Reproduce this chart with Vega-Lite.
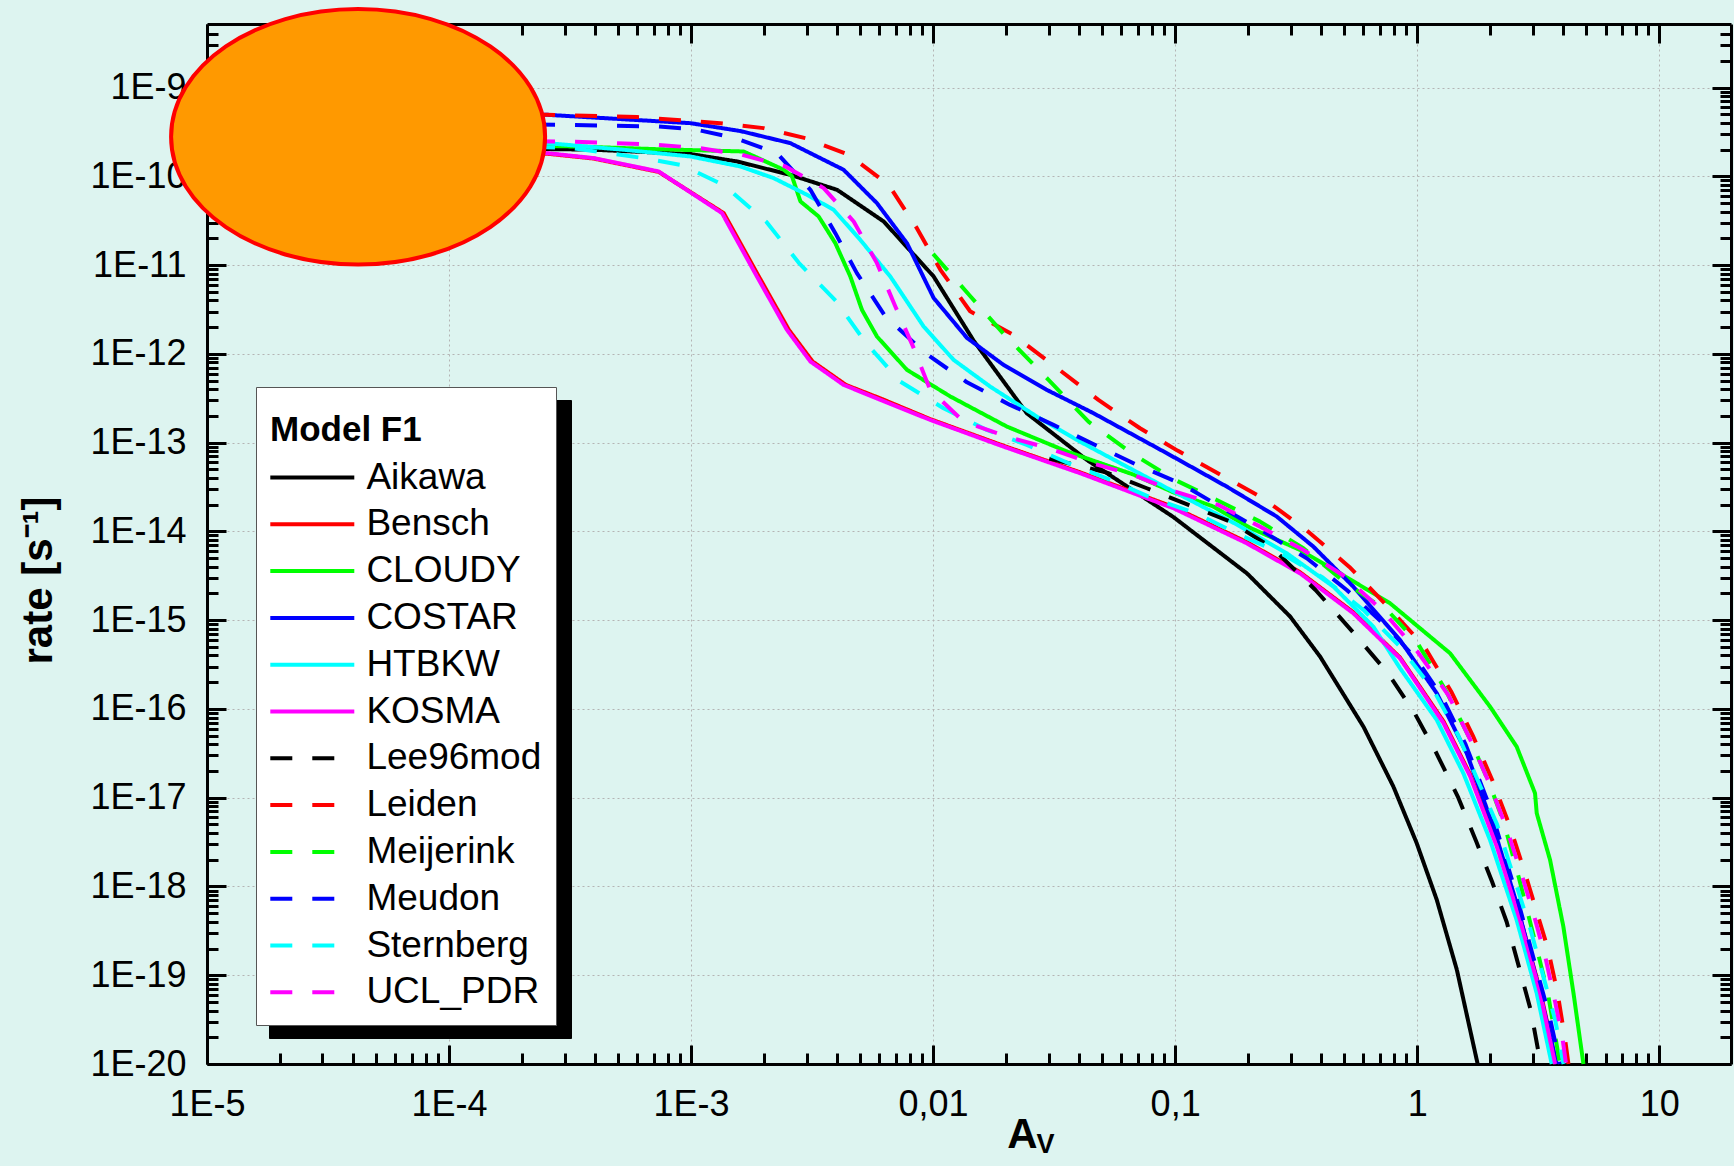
{
  "$schema": "https://vega.github.io/schema/vega-lite/v6.json",
  "width": 1524,
  "height": 1040,
  "autosize": {"type": "none"},
  "padding": {"left": 207, "top": 24, "right": 3, "bottom": 102},
  "background": "#ddf4f0",
  "config": {"view": {"stroke": null}, "font": "Liberation Sans"},
  "datasets": {
    "ellipse": [{"Av": 4.21e-5, "rate": 2.79e-10}],
    "rates": [
      {"model":"Aikawa","Av":1.0e-4,"rate":2.09e-10},
      {"model":"Aikawa","Av":3.84e-4,"rate":2.0e-10},
      {"model":"Aikawa","Av":1.0e-3,"rate":1.78e-10},
      {"model":"Aikawa","Av":1.55e-3,"rate":1.47e-10},
      {"model":"Aikawa","Av":2.57e-3,"rate":1.04e-10},
      {"model":"Aikawa","Av":4.01e-3,"rate":7.05e-11},
      {"model":"Aikawa","Av":6.25e-3,"rate":3.10e-11},
      {"model":"Aikawa","Av":1.005e-2,"rate":7.45e-12},
      {"model":"Aikawa","Av":1.47e-2,"rate":1.41e-12},
      {"model":"Aikawa","Av":2.44e-2,"rate":2.14e-13},
      {"model":"Aikawa","Av":4.32e-2,"rate":6.38e-14},
      {"model":"Aikawa","Av":9.84e-2,"rate":1.45e-14},
      {"model":"Aikawa","Av":0.198,"rate":3.37e-15},
      {"model":"Aikawa","Av":0.2985,"rate":1.10e-15},
      {"model":"Aikawa","Av":0.397,"rate":3.89e-16},
      {"model":"Aikawa","Av":0.600,"rate":6.31e-17},
      {"model":"Aikawa","Av":0.798,"rate":1.33e-17},
      {"model":"Aikawa","Av":0.995,"rate":3.09e-18},
      {"model":"Aikawa","Av":1.205,"rate":7.08e-19},
      {"model":"Aikawa","Av":1.459,"rate":1.15e-19},
      {"model":"Aikawa","Av":1.778,"rate":1.0e-20},

      {"model":"Bensch","Av":1.0e-4,"rate":1.862e-10},
      {"model":"Bensch","Av":2.541e-4,"rate":1.799e-10},
      {"model":"Bensch","Av":3.963e-4,"rate":1.585e-10},
      {"model":"Bensch","Av":7.345e-4,"rate":1.122e-10},
      {"model":"Bensch","Av":1.365e-3,"rate":3.846e-11},
      {"model":"Bensch","Av":1.905e-3,"rate":7.447e-12},
      {"model":"Bensch","Av":2.535e-3,"rate":1.866e-12},
      {"model":"Bensch","Av":3.177e-3,"rate":8.204e-13},
      {"model":"Bensch","Av":4.365e-3,"rate":4.467e-13},
      {"model":"Bensch","Av":6.166e-3,"rate":3.090e-13},
      {"model":"Bensch","Av":9.727e-3,"rate":1.841e-13},
      {"model":"Bensch","Av":1.954e-2,"rate":9.226e-14},
      {"model":"Bensch","Av":4.055e-2,"rate":4.624e-14},
      {"model":"Bensch","Av":9.840e-2,"rate":1.884e-14},
      {"model":"Bensch","Av":0.1977,"rate":7.586e-15},
      {"model":"Bensch","Av":0.3281,"rate":3.467e-15},
      {"model":"Bensch","Av":0.5445,"rate":1.230e-15},
      {"model":"Bensch","Av":0.8492,"rate":3.802e-16},
      {"model":"Bensch","Av":1.285,"rate":7.244e-17},
      {"model":"Bensch","Av":1.656,"rate":1.820e-17},
      {"model":"Bensch","Av":2.133,"rate":3.020e-18},
      {"model":"Bensch","Av":2.661,"rate":4.467e-19},
      {"model":"Bensch","Av":3.221,"rate":6.761e-20},
      {"model":"Bensch","Av":3.758,"rate":1.0e-20},

      {"model":"CLOUDY","Av":1.0e-4,"rate":2.213e-10},
      {"model":"CLOUDY","Av":3.273e-4,"rate":2.173e-10},
      {"model":"CLOUDY","Av":7.228e-4,"rate":2.023e-10},
      {"model":"CLOUDY","Av":1.648e-3,"rate":1.905e-10},
      {"model":"CLOUDY","Av":2.415e-3,"rate":1.186e-10},
      {"model":"CLOUDY","Av":2.612e-3,"rate":1.0e-10},
      {"model":"CLOUDY","Av":2.831e-3,"rate":5.212e-11},
      {"model":"CLOUDY","Av":3.365e-3,"rate":3.532e-11},
      {"model":"CLOUDY","Av":3.945e-3,"rate":1.766e-11},
      {"model":"CLOUDY","Av":4.550e-3,"rate":7.447e-12},
      {"model":"CLOUDY","Av":5.082e-3,"rate":3.133e-12},
      {"model":"CLOUDY","Av":5.861e-3,"rate":1.570e-12},
      {"model":"CLOUDY","Av":7.798e-3,"rate":6.607e-13},
      {"model":"CLOUDY","Av":1.178e-2,"rate":3.311e-13},
      {"model":"CLOUDY","Av":2.018e-2,"rate":1.517e-13},
      {"model":"CLOUDY","Av":3.573e-2,"rate":7.943e-14},
      {"model":"CLOUDY","Av":6.730e-2,"rate":4.365e-14},
      {"model":"CLOUDY","Av":9.840e-2,"rate":2.754e-14},
      {"model":"CLOUDY","Av":0.1439,"rate":1.905e-14},
      {"model":"CLOUDY","Av":0.2042,"rate":1.096e-14},
      {"model":"CLOUDY","Av":0.3281,"rate":6.180e-15},
      {"model":"CLOUDY","Av":0.4797,"rate":3.373e-15},
      {"model":"CLOUDY","Av":0.7727,"rate":1.549e-15},
      {"model":"CLOUDY","Av":1.368,"rate":4.236e-16},
      {"model":"CLOUDY","Av":2.0,"rate":1.062e-16},
      {"model":"CLOUDY","Av":2.576,"rate":3.767e-17},
      {"model":"CLOUDY","Av":3.069,"rate":1.122e-17},
      {"model":"CLOUDY","Av":3.119,"rate":6.683e-18},
      {"model":"CLOUDY","Av":3.540,"rate":1.995e-18},
      {"model":"CLOUDY","Av":4.018,"rate":3.532e-19},
      {"model":"CLOUDY","Av":4.426,"rate":6.252e-20},
      {"model":"CLOUDY","Av":4.864,"rate":1.0e-20},

      {"model":"COSTAR","Av":1.0e-4,"rate":5.012e-10},
      {"model":"COSTAR","Av":2.541e-4,"rate":4.932e-10},
      {"model":"COSTAR","Av":9.93e-4,"rate":3.972e-10},
      {"model":"COSTAR","Av":1.6e-3,"rate":3.236e-10},
      {"model":"COSTAR","Av":2.570e-3,"rate":2.366e-10},
      {"model":"COSTAR","Av":4.266e-3,"rate":1.186e-10},
      {"model":"COSTAR","Av":5.861e-3,"rate":4.989e-11},
      {"model":"COSTAR","Av":7.798e-3,"rate":1.766e-11},
      {"model":"COSTAR","Av":1.005e-2,"rate":4.266e-12},
      {"model":"COSTAR","Av":1.380e-2,"rate":1.514e-12},
      {"model":"COSTAR","Av":1.954e-2,"rate":7.516e-13},
      {"model":"COSTAR","Av":2.951e-2,"rate":3.926e-13},
      {"model":"COSTAR","Av":4.603e-2,"rate":2.143e-13},
      {"model":"COSTAR","Av":9.247e-2,"rate":7.586e-14},
      {"model":"COSTAR","Av":0.1633,"rate":3.199e-14},
      {"model":"COSTAR","Av":0.2630,"rate":1.469e-14},
      {"model":"COSTAR","Av":0.3724,"rate":6.745e-15},
      {"model":"COSTAR","Av":0.5445,"rate":2.388e-15},
      {"model":"COSTAR","Av":0.8492,"rate":5.984e-16},
      {"model":"COSTAR","Av":1.205,"rate":1.503e-16},
      {"model":"COSTAR","Av":1.603,"rate":3.162e-17},
      {"model":"COSTAR","Av":2.065,"rate":4.721e-18},
      {"model":"COSTAR","Av":2.576,"rate":6.457e-19},
      {"model":"COSTAR","Av":3.119,"rate":8.913e-20},
      {"model":"COSTAR","Av":3.776,"rate":1.0e-20},

      {"model":"HTBKW","Av":1.0e-4,"rate":2.399e-10},
      {"model":"HTBKW","Av":2.541e-4,"rate":2.366e-10},
      {"model":"HTBKW","Av":5.272e-4,"rate":1.991e-10},
      {"model":"HTBKW","Av":9.93e-4,"rate":1.675e-10},
      {"model":"HTBKW","Av":1.600e-3,"rate":1.291e-10},
      {"model":"HTBKW","Av":2.193e-3,"rate":9.550e-11},
      {"model":"HTBKW","Av":3.013e-3,"rate":6.194e-11},
      {"model":"HTBKW","Av":3.882e-3,"rate":4.198e-11},
      {"model":"HTBKW","Av":5.000e-3,"rate":1.928e-11},
      {"model":"HTBKW","Av":6.653e-3,"rate":7.447e-12},
      {"model":"HTBKW","Av":9.141e-3,"rate":2.032e-12},
      {"model":"HTBKW","Av":1.216e-2,"rate":8.551e-13},
      {"model":"HTBKW","Av":1.722e-2,"rate":4.276e-13},
      {"model":"HTBKW","Av":2.685e-2,"rate":1.963e-13},
      {"model":"HTBKW","Av":3.926e-2,"rate":1.072e-13},
      {"model":"HTBKW","Av":6.124e-2,"rate":5.610e-14},
      {"model":"HTBKW","Av":9.226e-2,"rate":3.090e-14},
      {"model":"HTBKW","Av":0.1820,"rate":1.175e-14},
      {"model":"HTBKW","Av":0.2891,"rate":5.675e-15},
      {"model":"HTBKW","Av":0.4508,"rate":2.388e-15},
      {"model":"HTBKW","Av":0.6592,"rate":8.453e-16},
      {"model":"HTBKW","Av":0.8492,"rate":2.884e-16},
      {"model":"HTBKW","Av":1.205,"rate":7.516e-17},
      {"model":"HTBKW","Av":1.552,"rate":1.884e-17},
      {"model":"HTBKW","Av":2.0,"rate":3.342e-18},
      {"model":"HTBKW","Av":2.576,"rate":4.198e-19},
      {"model":"HTBKW","Av":3.119,"rate":6.252e-20},
      {"model":"HTBKW","Av":3.597,"rate":1.0e-20},

      {"model":"KOSMA","Av":1.0e-4,"rate":1.905e-10},
      {"model":"KOSMA","Av":2.541e-4,"rate":1.824e-10},
      {"model":"KOSMA","Av":3.963e-4,"rate":1.603e-10},
      {"model":"KOSMA","Av":7.345e-4,"rate":1.135e-10},
      {"model":"KOSMA","Av":1.343e-3,"rate":3.846e-11},
      {"model":"KOSMA","Av":1.871e-3,"rate":7.447e-12},
      {"model":"KOSMA","Av":2.489e-3,"rate":1.866e-12},
      {"model":"KOSMA","Av":3.112e-3,"rate":8.204e-13},
      {"model":"KOSMA","Av":4.266e-3,"rate":4.477e-13},
      {"model":"KOSMA","Av":6.053e-3,"rate":3.034e-13},
      {"model":"KOSMA","Av":9.727e-3,"rate":1.803e-13},
      {"model":"KOSMA","Av":1.954e-2,"rate":9.016e-14},
      {"model":"KOSMA","Av":4.055e-2,"rate":4.519e-14},
      {"model":"KOSMA","Av":9.840e-2,"rate":1.824e-14},
      {"model":"KOSMA","Av":0.1977,"rate":7.345e-15},
      {"model":"KOSMA","Av":0.3281,"rate":3.373e-15},
      {"model":"KOSMA","Av":0.5445,"rate":1.197e-15},
      {"model":"KOSMA","Av":0.8492,"rate":3.715e-16},
      {"model":"KOSMA","Av":1.285,"rate":6.918e-17},
      {"model":"KOSMA","Av":1.656,"rate":1.738e-17},
      {"model":"KOSMA","Av":2.133,"rate":2.818e-18},
      {"model":"KOSMA","Av":2.661,"rate":4.169e-19},
      {"model":"KOSMA","Av":3.221,"rate":6.31e-20},
      {"model":"KOSMA","Av":3.715,"rate":1.0e-20},

      {"model":"Lee96mod","Av":3.020e-2,"rate":6.607e-14},
      {"model":"Lee96mod","Av":5.224e-2,"rate":4.592e-14},
      {"model":"Lee96mod","Av":7.638e-2,"rate":3.062e-14},
      {"model":"Lee96mod","Av":0.1135,"rate":1.986e-14},
      {"model":"Lee96mod","Av":0.1687,"rate":1.288e-14},
      {"model":"Lee96mod","Av":0.2506,"rate":6.607e-15},
      {"model":"Lee96mod","Av":0.3802,"rate":2.188e-15},
      {"model":"Lee96mod","Av":0.5370,"rate":7.586e-16},
      {"model":"Lee96mod","Av":0.7586,"rate":2.512e-16},
      {"model":"Lee96mod","Av":0.9772,"rate":8.913e-17},
      {"model":"Lee96mod","Av":1.202,"rate":3.162e-17},
      {"model":"Lee96mod","Av":1.479,"rate":1.0e-17},
      {"model":"Lee96mod","Av":1.758,"rate":3.162e-18},
      {"model":"Lee96mod","Av":2.042,"rate":1.122e-18},
      {"model":"Lee96mod","Av":2.344,"rate":3.981e-19},
      {"model":"Lee96mod","Av":2.630,"rate":1.259e-19},
      {"model":"Lee96mod","Av":2.951,"rate":3.981e-20},
      {"model":"Lee96mod","Av":3.236,"rate":1.0e-20},

      {"model":"Leiden","Av":1.0e-4,"rate":5.012e-10},
      {"model":"Leiden","Av":2.541e-4,"rate":4.932e-10},
      {"model":"Leiden","Av":5.984e-4,"rate":4.645e-10},
      {"model":"Leiden","Av":1.321e-3,"rate":3.972e-10},
      {"model":"Leiden","Av":1.995e-3,"rate":3.491e-10},
      {"model":"Leiden","Av":2.965e-3,"rate":2.692e-10},
      {"model":"Leiden","Av":4.477e-3,"rate":1.750e-10},
      {"model":"Leiden","Av":6.546e-3,"rate":8.035e-11},
      {"model":"Leiden","Av":8.570e-3,"rate":2.606e-11},
      {"model":"Leiden","Av":1.072e-2,"rate":8.851e-12},
      {"model":"Leiden","Av":1.422e-2,"rate":3.020e-12},
      {"model":"Leiden","Av":2.148e-2,"rate":1.637e-12},
      {"model":"Leiden","Av":3.192e-2,"rate":7.194e-13},
      {"model":"Leiden","Av":4.819e-2,"rate":3.027e-13},
      {"model":"Leiden","Av":7.161e-2,"rate":1.452e-13},
      {"model":"Leiden","Av":0.1023,"rate":8.128e-14},
      {"model":"Leiden","Av":0.1514,"rate":4.467e-14},
      {"model":"Leiden","Av":0.2291,"rate":2.399e-14},
      {"model":"Leiden","Av":0.3467,"rate":1.047e-14},
      {"model":"Leiden","Av":0.5248,"rate":3.981e-15},
      {"model":"Leiden","Av":0.7586,"rate":1.413e-15},
      {"model":"Leiden","Av":1.072,"rate":5.012e-16},
      {"model":"Leiden","Av":1.380,"rate":1.585e-16},
      {"model":"Leiden","Av":1.698,"rate":5.012e-17},
      {"model":"Leiden","Av":2.042,"rate":1.585e-17},
      {"model":"Leiden","Av":2.399,"rate":5.012e-18},
      {"model":"Leiden","Av":2.754,"rate":1.585e-18},
      {"model":"Leiden","Av":3.090,"rate":5.623e-19},
      {"model":"Leiden","Av":3.467,"rate":1.995e-19},
      {"model":"Leiden","Av":3.802,"rate":6.310e-20},
      {"model":"Leiden","Av":4.074,"rate":1.995e-20},
      {"model":"Leiden","Av":4.217,"rate":1.0e-20},

      {"model":"Meijerink","Av":1.0e-2,"rate":1.340e-11},
      {"model":"Meijerink","Av":1.413e-2,"rate":4.571e-12},
      {"model":"Meijerink","Av":1.995e-2,"rate":1.585e-12},
      {"model":"Meijerink","Av":2.999e-2,"rate":5.093e-13},
      {"model":"Meijerink","Av":4.385e-2,"rate":1.726e-13},
      {"model":"Meijerink","Av":6.622e-2,"rate":7.586e-14},
      {"model":"Meijerink","Av":0.1,"rate":3.802e-14},
      {"model":"Meijerink","Av":0.1486,"rate":2.259e-14},
      {"model":"Meijerink","Av":0.2244,"rate":1.288e-14},
      {"model":"Meijerink","Av":0.3388,"rate":6.457e-15},
      {"model":"Meijerink","Av":0.4955,"rate":2.754e-15},
      {"model":"Meijerink","Av":0.7727,"rate":1.202e-15},
      {"model":"Meijerink","Av":1.0,"rate":5.623e-16},
      {"model":"Meijerink","Av":1.318,"rate":1.585e-16},
      {"model":"Meijerink","Av":1.660,"rate":4.467e-17},
      {"model":"Meijerink","Av":1.995,"rate":1.413e-17},
      {"model":"Meijerink","Av":2.291,"rate":5.012e-18},
      {"model":"Meijerink","Av":2.630,"rate":1.259e-18},
      {"model":"Meijerink","Av":3.090,"rate":2.239e-19},
      {"model":"Meijerink","Av":3.467,"rate":6.310e-20},
      {"model":"Meijerink","Av":3.890,"rate":1.0e-20},

      {"model":"Meudon","Av":1.0e-4,"rate":3.890e-10},
      {"model":"Meudon","Av":2.793e-4,"rate":3.811e-10},
      {"model":"Meudon","Av":7.244e-4,"rate":3.648e-10},
      {"model":"Meudon","Av":1.026e-3,"rate":3.404e-10},
      {"model":"Meudon","Av":1.524e-3,"rate":2.692e-10},
      {"model":"Meudon","Av":2.265e-3,"rate":1.824e-10},
      {"model":"Meudon","Av":3.112e-3,"rate":7.047e-11},
      {"model":"Meudon","Av":3.945e-3,"rate":2.291e-11},
      {"model":"Meudon","Av":4.842e-3,"rate":8.128e-12},
      {"model":"Meudon","Av":6.353e-3,"rate":2.636e-12},
      {"model":"Meudon","Av":9.290e-3,"rate":1.019e-12},
      {"model":"Meudon","Av":1.380e-2,"rate":4.786e-13},
      {"model":"Meudon","Av":2.080e-2,"rate":2.661e-13},
      {"model":"Meudon","Av":3.141e-2,"rate":1.585e-13},
      {"model":"Meudon","Av":4.677e-2,"rate":9.419e-14},
      {"model":"Meudon","Av":6.950e-2,"rate":5.610e-14},
      {"model":"Meudon","Av":0.1050,"rate":3.483e-14},
      {"model":"Meudon","Av":0.1535,"rate":1.901e-14},
      {"model":"Meudon","Av":0.2317,"rate":9.954e-15},
      {"model":"Meudon","Av":0.3499,"rate":4.977e-15},
      {"model":"Meudon","Av":0.5117,"rate":2.188e-15},
      {"model":"Meudon","Av":0.7482,"rate":8.453e-16},
      {"model":"Meudon","Av":1.0,"rate":3.548e-16},
      {"model":"Meudon","Av":1.259,"rate":1.413e-16},
      {"model":"Meudon","Av":1.585,"rate":3.981e-17},
      {"model":"Meudon","Av":1.995,"rate":7.943e-18},
      {"model":"Meudon","Av":2.512,"rate":1.0e-18},
      {"model":"Meudon","Av":3.020,"rate":1.585e-19},
      {"model":"Meudon","Av":3.548,"rate":3.162e-20},
      {"model":"Meudon","Av":3.890,"rate":1.0e-20},

      {"model":"Sternberg","Av":1.0e-4,"rate":2.291e-10},
      {"model":"Sternberg","Av":3.162e-4,"rate":2.089e-10},
      {"model":"Sternberg","Av":6.081e-4,"rate":1.633e-10},
      {"model":"Sternberg","Av":9.183e-4,"rate":1.337e-10},
      {"model":"Sternberg","Av":1.365e-3,"rate":7.962e-11},
      {"model":"Sternberg","Av":2.046e-3,"rate":3.076e-11},
      {"model":"Sternberg","Av":2.786e-3,"rate":1.062e-11},
      {"model":"Sternberg","Av":3.972e-3,"rate":3.926e-12},
      {"model":"Sternberg","Av":5.248e-3,"rate":1.355e-12},
      {"model":"Sternberg","Av":7.311e-3,"rate":4.887e-13},
      {"model":"Sternberg","Av":1.104e-2,"rate":2.438e-13},
      {"model":"Sternberg","Av":1.667e-2,"rate":1.390e-13},
      {"model":"Sternberg","Av":2.438e-2,"rate":9.419e-14},
      {"model":"Sternberg","Av":3.631e-2,"rate":5.861e-14},
      {"model":"Sternberg","Av":5.395e-2,"rate":3.802e-14},
      {"model":"Sternberg","Av":8.128e-2,"rate":2.344e-14},
      {"model":"Sternberg","Av":0.1230,"rate":1.585e-14},
      {"model":"Sternberg","Av":0.1820,"rate":9.333e-15},
      {"model":"Sternberg","Av":0.2754,"rate":5.623e-15},
      {"model":"Sternberg","Av":0.4074,"rate":3.020e-15},
      {"model":"Sternberg","Av":0.5998,"rate":1.303e-15},
      {"model":"Sternberg","Av":0.8511,"rate":5.012e-16},
      {"model":"Sternberg","Av":1.175,"rate":1.585e-16},
      {"model":"Sternberg","Av":1.479,"rate":5.012e-17},
      {"model":"Sternberg","Av":1.778,"rate":1.585e-17},
      {"model":"Sternberg","Av":2.138,"rate":5.012e-18},
      {"model":"Sternberg","Av":2.512,"rate":1.259e-18},
      {"model":"Sternberg","Av":2.951,"rate":3.162e-19},
      {"model":"Sternberg","Av":3.388,"rate":7.943e-20},
      {"model":"Sternberg","Av":3.715,"rate":3.162e-20},
      {"model":"Sternberg","Av":4.027,"rate":1.0e-20},

      {"model":"UCL_PDR","Av":1.0e-4,"rate":2.512e-10},
      {"model":"UCL_PDR","Av":2.979e-4,"rate":2.472e-10},
      {"model":"UCL_PDR","Av":4.864e-4,"rate":2.366e-10},
      {"model":"UCL_PDR","Av":7.228e-4,"rate":2.265e-10},
      {"model":"UCL_PDR","Av":1.091e-3,"rate":2.080e-10},
      {"model":"UCL_PDR","Av":1.622e-3,"rate":1.750e-10},
      {"model":"UCL_PDR","Av":2.455e-3,"rate":1.291e-10},
      {"model":"UCL_PDR","Av":3.532e-3,"rate":7.362e-11},
      {"model":"UCL_PDR","Av":4.699e-3,"rate":3.097e-11},
      {"model":"UCL_PDR","Av":5.861e-3,"rate":1.052e-11},
      {"model":"UCL_PDR","Av":6.982e-3,"rate":3.420e-12},
      {"model":"UCL_PDR","Av":8.318e-3,"rate":1.159e-12},
      {"model":"UCL_PDR","Av":9.727e-3,"rate":3.926e-13},
      {"model":"UCL_PDR","Av":1.337e-2,"rate":1.726e-13},
      {"model":"UCL_PDR","Av":2.018e-2,"rate":1.169e-13},
      {"model":"UCL_PDR","Av":2.999e-2,"rate":8.650e-14},
      {"model":"UCL_PDR","Av":4.529e-2,"rate":5.861e-14},
      {"model":"UCL_PDR","Av":6.730e-2,"rate":4.325e-14},
      {"model":"UCL_PDR","Av":0.1,"rate":2.805e-14},
      {"model":"UCL_PDR","Av":0.1510,"rate":1.986e-14},
      {"model":"UCL_PDR","Av":0.2244,"rate":1.132e-14},
      {"model":"UCL_PDR","Av":0.3388,"rate":6.180e-15},
      {"model":"UCL_PDR","Av":0.5035,"rate":3.090e-15},
      {"model":"UCL_PDR","Av":0.7261,"rate":1.247e-15},
      {"model":"UCL_PDR","Av":1.0,"rate":4.467e-16},
      {"model":"UCL_PDR","Av":1.349,"rate":1.413e-16},
      {"model":"UCL_PDR","Av":1.660,"rate":4.467e-17},
      {"model":"UCL_PDR","Av":1.995,"rate":1.413e-17},
      {"model":"UCL_PDR","Av":2.344,"rate":4.467e-18},
      {"model":"UCL_PDR","Av":2.692,"rate":1.413e-18},
      {"model":"UCL_PDR","Av":3.020,"rate":5.012e-19},
      {"model":"UCL_PDR","Av":3.388,"rate":1.585e-19},
      {"model":"UCL_PDR","Av":3.715,"rate":5.012e-20},
      {"model":"UCL_PDR","Av":3.981,"rate":1.995e-20},
      {"model":"UCL_PDR","Av":4.121,"rate":1.0e-20}
    ]
  },
  "layer": [
    {
      "data": {"name": "rates"},
      "mark": {"type": "line", "strokeWidth": 4, "strokeCap": "butt", "strokeJoin": "round"},
      "encoding": {
        "x": {
          "field": "Av", "type": "quantitative",
          "scale": {"type": "log", "domain": [1e-5, 19.8], "nice": false},
          "axis": {
            "orient": "bottom", "values": [1e-5, 1e-4, 1e-3, 0.01, 0.1, 1, 10],
            "labelExpr": "datum.value < 0.005 ? '1E' + round(log(datum.value) / LN10) : replace(toString(datum.value), '.', ',')",
            "labelFlush": false, "labelOverlap": false, "labelFont": "Liberation Sans", "labelFontSize": 36, "labelColor": "#000000", "labelPadding": 42,
            "tickSize": -19, "tickWidth": 3, "tickColor": "#000000",
            "domain": true, "domainColor": "#000000", "domainWidth": 3,
            "grid": true, "gridColor": "#b4b4b4", "gridDash": [2, 3], "gridWidth": 1,
            "title": "A", "titleFont": "Liberation Sans", "titleFontSize": 42, "titleFontWeight": "bold", "titleColor": "#000000",
            "titleX": 815, "titleY": 83, "titleAlign": "center", "titleBaseline": "alphabetic", "titleAngle": 0,
            "zindex": 0
          }
        },
        "y": {
          "field": "rate", "type": "quantitative",
          "scale": {"type": "log", "domain": [1e-20, 5.2e-9], "nice": false},
          "axis": {
            "orient": "left", "values": [1e-20, 1e-19, 1e-18, 1e-17, 1e-16, 1e-15, 1e-14, 1e-13, 1e-12, 1e-11, 1e-10, 1e-9],
            "labelExpr": "'1E' + round(log(datum.value) / LN10)",
            "labelFlush": false, "labelOverlap": false, "labelFont": "Liberation Sans", "labelFontSize": 36, "labelColor": "#000000", "labelPadding": 40,
            "tickSize": -19, "tickWidth": 3, "tickColor": "#000000",
            "domain": true, "domainColor": "#000000", "domainWidth": 3,
            "grid": true, "gridColor": "#b4b4b4", "gridDash": [2, 3], "gridWidth": 1,
            "title": "rate [s\u207b\u00b9]", "titleFont": "Liberation Sans", "titleFontSize": 42, "titleFontWeight": "bold", "titleColor": "#000000",
            "titleX": -169, "titleY": 556, "titleAlign": "center", "titleBaseline": "middle", "titleAngle": 270,
            "zindex": 0
          }
        },
        "color": {
          "field": "model", "type": "nominal",
          "scale": {
            "domain": ["Aikawa", "Bensch", "CLOUDY", "COSTAR", "HTBKW", "KOSMA", "Lee96mod", "Leiden", "Meijerink", "Meudon", "Sternberg", "UCL_PDR"],
            "range": ["#000000", "#ff0000", "#00ff00", "#0000ff", "#00ffff", "#ff00ff", "#000000", "#ff0000", "#00ff00", "#0000ff", "#00ffff", "#ff00ff"]
          },
          "legend": {
            "orient": "none", "legendX": 49, "legendY": 363,
            "title": "Model F1", "titleFont": "Liberation Sans", "titleFontSize": 35, "titleFontWeight": "bold", "titleColor": "#000000",
            "titleBaseline": "line-top", "titleLineHeight": 59, "titlePadding": 23,
            "labelFont": "Liberation Sans", "labelFontSize": 37, "labelColor": "#000000", "labelOffset": 35.6, "labelLimit": 400,
            "symbolType": "M -4 0 L 4 0", "symbolSize": 441, "symbolStrokeWidth": 4, "symbolOffset": 23.8,
            "padding": 14, "rowPadding": 8.8, "fillColor": "#ffffff", "strokeColor": "#555555",
            "zindex": 2
          }
        },
        "strokeDash": {
          "field": "model", "type": "nominal",
          "scale": {
            "domain": ["Aikawa", "Bensch", "CLOUDY", "COSTAR", "HTBKW", "KOSMA", "Lee96mod", "Leiden", "Meijerink", "Meudon", "Sternberg", "UCL_PDR"],
            "range": [[1, 0], [1, 0], [1, 0], [1, 0], [1, 0], [1, 0], [22, 20], [22, 20], [22, 20], [22, 20], [22, 20], [22, 20]]
          }
        }
      }
    },
    {
      "data": {"name": "rates"},
      "mark": {"type": "point", "opacity": 0},
      "encoding": {
        "x": {
          "field": "Av", "type": "quantitative",
          "scale": {"type": "log", "domain": [1e-5, 19.8], "nice": false},
          "axis": {"orient": "top", "values": [1e-5, 1e-4, 1e-3, 0.01, 0.1, 1, 10], "labels": false, "tickSize": -19, "tickWidth": 3, "tickColor": "#000000", "domain": true, "domainColor": "#000000", "domainWidth": 3, "grid": false, "title": null, "zindex": 0}
        },
        "y": {
          "field": "rate", "type": "quantitative",
          "scale": {"type": "log", "domain": [1e-20, 5.2e-9], "nice": false},
          "axis": {"orient": "right", "values": [1e-20, 1e-19, 1e-18, 1e-17, 1e-16, 1e-15, 1e-14, 1e-13, 1e-12, 1e-11, 1e-10, 1e-9], "labels": false, "tickSize": -19, "tickWidth": 3, "tickColor": "#000000", "domain": true, "domainColor": "#000000", "domainWidth": 3, "grid": false, "title": null, "zindex": 0}
        },
        "shape": {
          "field": "model", "type": "nominal",
          "scale": {"domain": ["UCL_PDR", "Sternberg", "Meudon", "Meijerink", "Leiden", "Lee96mod", "KOSMA", "HTBKW", "COSTAR", "CLOUDY", "Bensch", "Aikawa"]},
          "legend": {
            "orient": "none", "legendX": 62, "legendY": 376,
            "title": "\u00a0", "titleFont": "Liberation Sans", "titleFontSize": 35, "titleFontWeight": "bold", "titleColor": "#000000",
            "titleBaseline": "line-top", "titleLineHeight": 59, "titlePadding": 23,
            "labelExpr": "'\u00a0'", "labelFont": "Liberation Sans", "labelFontSize": 37, "labelColor": "#000000", "labelOffset": 213,
            "symbolSize": 441, "symbolOffset": 23.8, "symbolStrokeColor": "#000000", "symbolFillColor": "#000000",
            "padding": 14, "rowPadding": 8.8, "fillColor": "#000000", "strokeColor": "#000000",
            "zindex": 1
          }
        }
      }
    },
    {
      "data": {"name": "rates"},
      "mark": {"type": "point", "opacity": 0},
      "encoding": {
        "x": {
          "field": "Av", "type": "quantitative",
          "scale": {"type": "log", "domain": [1e-5, 19.8], "nice": false},
          "axis": {"orient": "top", "values": [2e-5, 3e-5, 4e-5, 5e-5, 6e-5, 7e-5, 8e-5, 9e-5, 2e-4, 3e-4, 4e-4, 5e-4, 6e-4, 7e-4, 8e-4, 9e-4, 0.002, 0.003, 0.004, 0.005, 0.006, 0.007, 0.008, 0.009, 0.02, 0.03, 0.04, 0.05, 0.06, 0.07, 0.08, 0.09, 0.2, 0.3, 0.4, 0.5, 0.6, 0.7, 0.8, 0.9, 2, 3, 4, 5, 6, 7, 8, 9], "labels": false, "tickSize": -11, "tickWidth": 3, "tickColor": "#000000", "domain": false, "grid": false, "title": null, "zindex": 0}
        },
        "y": {
          "field": "rate", "type": "quantitative",
          "scale": {"type": "log", "domain": [1e-20, 5.2e-9], "nice": false},
          "axis": {"orient": "right", "values": [2e-20, 3e-20, 4e-20, 5e-20, 6e-20, 7e-20, 8e-20, 9e-20, 2e-19, 3e-19, 4e-19, 5e-19, 6e-19, 7e-19, 8e-19, 9e-19, 2e-18, 3e-18, 4e-18, 5e-18, 6e-18, 7e-18, 8e-18, 9e-18, 2e-17, 3e-17, 4e-17, 5e-17, 6e-17, 7e-17, 8e-17, 9e-17, 2e-16, 3e-16, 4e-16, 5e-16, 6e-16, 7e-16, 8e-16, 9e-16, 2e-15, 3e-15, 4e-15, 5e-15, 6e-15, 7e-15, 8e-15, 9e-15, 2e-14, 3e-14, 4e-14, 5e-14, 6e-14, 7e-14, 8e-14, 9e-14, 2e-13, 3e-13, 4e-13, 5e-13, 6e-13, 7e-13, 8e-13, 9e-13, 2e-12, 3e-12, 4e-12, 5e-12, 6e-12, 7e-12, 8e-12, 9e-12, 2e-11, 3e-11, 4e-11, 5e-11, 6e-11, 7e-11, 8e-11, 9e-11, 2e-10, 3e-10, 4e-10, 5e-10, 6e-10, 7e-10, 8e-10, 9e-10, 2e-9, 3e-9, 4e-9], "labels": false, "tickSize": -11, "tickWidth": 3, "tickColor": "#000000", "domain": false, "grid": false, "title": null, "zindex": 0}
        }
      }
    },
    {
      "data": {"name": "ellipse"},
      "mark": {"type": "point", "shape": "M -1 0 A 1 0.683 0 1 0 1 0 A 1 0.683 0 1 0 -1 0 Z", "size": 139876, "filled": true, "fill": "#ff9900", "stroke": "#ff0000", "strokeWidth": 4, "opacity": 1, "fillOpacity": 1, "strokeOpacity": 1},
      "encoding": {
        "x": {
          "field": "Av", "type": "quantitative",
          "scale": {"type": "log", "domain": [1e-5, 19.8], "nice": false},
          "axis": {"orient": "bottom", "values": [2e-5, 3e-5, 4e-5, 5e-5, 6e-5, 7e-5, 8e-5, 9e-5, 2e-4, 3e-4, 4e-4, 5e-4, 6e-4, 7e-4, 8e-4, 9e-4, 0.002, 0.003, 0.004, 0.005, 0.006, 0.007, 0.008, 0.009, 0.02, 0.03, 0.04, 0.05, 0.06, 0.07, 0.08, 0.09, 0.2, 0.3, 0.4, 0.5, 0.6, 0.7, 0.8, 0.9, 2, 3, 4, 5, 6, 7, 8, 9], "labels": false, "tickSize": -11, "tickWidth": 3, "tickColor": "#000000", "domain": false, "grid": false,
            "title": "V", "titleFont": "Liberation Sans", "titleFontSize": 27, "titleFontWeight": "bold", "titleColor": "#000000", "titleX": 838, "titleY": 88, "titleAlign": "center", "titleBaseline": "alphabetic", "titleAngle": 0, "zindex": 0}
        },
        "y": {
          "field": "rate", "type": "quantitative",
          "scale": {"type": "log", "domain": [1e-20, 5.2e-9], "nice": false},
          "axis": {"orient": "left", "values": [2e-20, 3e-20, 4e-20, 5e-20, 6e-20, 7e-20, 8e-20, 9e-20, 2e-19, 3e-19, 4e-19, 5e-19, 6e-19, 7e-19, 8e-19, 9e-19, 2e-18, 3e-18, 4e-18, 5e-18, 6e-18, 7e-18, 8e-18, 9e-18, 2e-17, 3e-17, 4e-17, 5e-17, 6e-17, 7e-17, 8e-17, 9e-17, 2e-16, 3e-16, 4e-16, 5e-16, 6e-16, 7e-16, 8e-16, 9e-16, 2e-15, 3e-15, 4e-15, 5e-15, 6e-15, 7e-15, 8e-15, 9e-15, 2e-14, 3e-14, 4e-14, 5e-14, 6e-14, 7e-14, 8e-14, 9e-14, 2e-13, 3e-13, 4e-13, 5e-13, 6e-13, 7e-13, 8e-13, 9e-13, 2e-12, 3e-12, 4e-12, 5e-12, 6e-12, 7e-12, 8e-12, 9e-12, 2e-11, 3e-11, 4e-11, 5e-11, 6e-11, 7e-11, 8e-11, 9e-11, 2e-10, 3e-10, 4e-10, 5e-10, 6e-10, 7e-10, 8e-10, 9e-10, 2e-9, 3e-9, 4e-9], "labels": false, "tickSize": -11, "tickWidth": 3, "tickColor": "#000000", "domain": false, "grid": false, "title": null, "zindex": 0}
        }
      }
    }
  ],
  "resolve": {"axis": {"x": "independent", "y": "independent"}}
}
